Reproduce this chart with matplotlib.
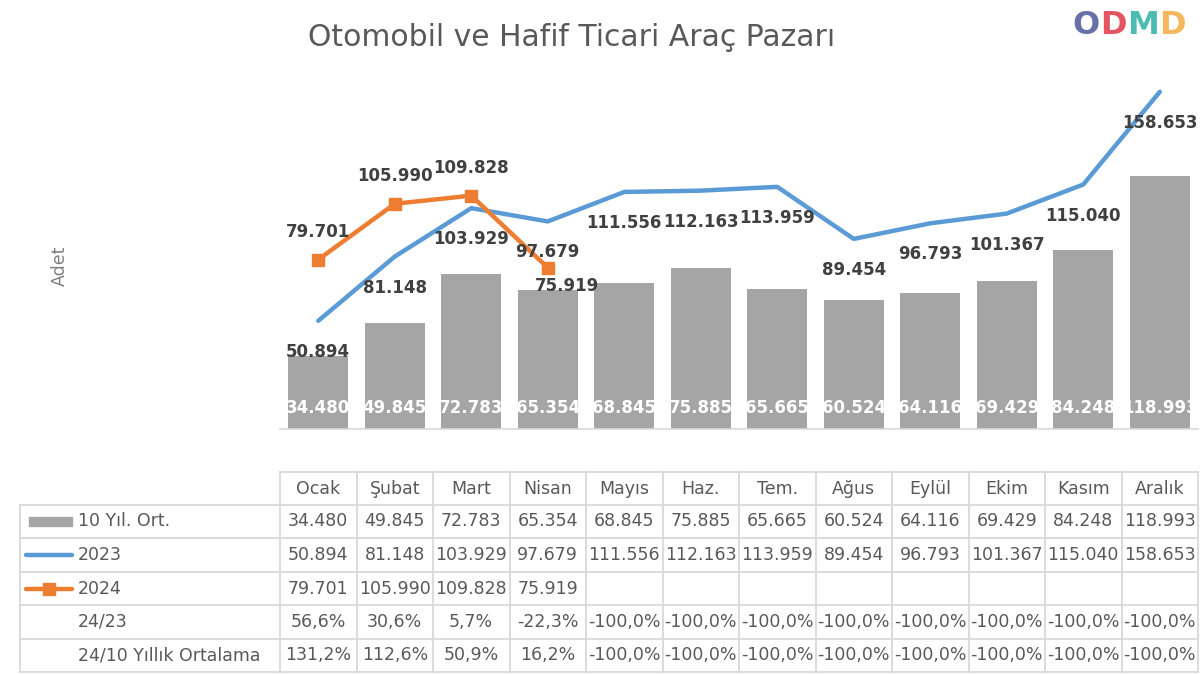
import matplotlib
matplotlib.use("Agg")
import matplotlib.pyplot as plt
from matplotlib.patches import Rectangle
from matplotlib.lines import Line2D

plt.rcParams['font.family'] = ['DejaVu Sans']

# ---------------- data ----------------
months = ["Ocak", "Şubat", "Mart", "Nisan", "Mayıs", "Haz.", "Tem.", "Ağus",
          "Eylül", "Ekim", "Kasım", "Aralık"]
avg10 = [34480, 49845, 72783, 65354, 68845, 75885, 65665, 60524, 64116, 69429, 84248, 118993]
y2023 = [50894, 81148, 103929, 97679, 111556, 112163, 113959, 89454, 96793, 101367, 115040, 158653]
y2024 = [79701, 105990, 109828, 75919]
pct_24_23 = [56.6, 30.6, 5.7, -22.3, -100.0, -100.0, -100.0, -100.0, -100.0, -100.0, -100.0, -100.0]
pct_24_10 = [131.2, 112.6, 50.9, 16.2, -100.0, -100.0, -100.0, -100.0, -100.0, -100.0, -100.0, -100.0]
row_labels = ["10 Yıl. Ort.", "2023", "2024", "24/23", "24/10 Yıllık Ortalama"]
title = "Otomobil ve Hafif Ticari Araç Pazarı"
logo_letters = ["O", "D", "M", "D"]

# ---------------- style ----------------
W, H = 1200, 675
GRAY_BAR = "#a5a5a5"
BLUE = "#5b9bd5"
ORANGE = "#ed7d31"
LABEL = "#404040"
TXT = "#595959"
GRID = "#d9d9d9"
logo_colors = ["#56629e", "#e0424f", "#3ab5a8", "#f4b04a"]

def fmt(v):
    return f"{v:,}".replace(",", ".")

def fmtp(p):
    return f"{p:.1f}%".replace(".", ",")

fig = plt.figure(figsize=(12, 6.75), dpi=100)
fig.patch.set_facecolor("white")

# chart geometry (pixels)
left_px, col_w, base_px = 280, 76.5, 429
ymax = 180000
plot_h = 382.5
ax = fig.add_axes([left_px / W, (H - base_px) / H, 12 * col_w / W, plot_h / H])
ax.set_xlim(-0.5, 11.5)
ax.set_ylim(0, ymax)
for s in ["top", "right", "left"]:
    ax.spines[s].set_visible(False)
ax.spines["bottom"].set_color(GRID)
ax.spines["bottom"].set_linewidth(1.2)
ax.set_xticks([])
ax.set_yticks([])
ax.patch.set_alpha(0)

x = list(range(len(months)))
ax.bar(x, avg10, width=0.78, color=GRAY_BAR, zorder=1)
ax.plot(x, y2023, color=BLUE, lw=3.2, solid_capstyle="round", zorder=3)
x24 = x[:len(y2024)]
ax.plot(x24, y2024, color=ORANGE, lw=3.2, marker="s", ms=8.5, zorder=4)

LFS = 12
pt = 72 / 100  # px -> points
for i, v in enumerate(avg10):
    ax.annotate(fmt(v), (i, 0), xytext=(0, 21 * pt), textcoords="offset points",
                ha="center", va="center", color="white", fontsize=LFS,
                fontweight="bold", zorder=2)
for i, v in enumerate(y2023):
    ax.annotate(fmt(v), (i, v), xytext=(0, -31 * pt), textcoords="offset points",
                ha="center", va="center", color=LABEL, fontsize=LFS,
                fontweight="bold", zorder=5)
for i, v in enumerate(y2024):
    if i == 3:
        off = (19 * pt, -18 * pt)
    else:
        off = (0, 28 * pt)
    ax.annotate(fmt(v), (i, v), xytext=off, textcoords="offset points",
                ha="center", va="center", color=LABEL, fontsize=LFS,
                fontweight="bold", zorder=5)

# ---------------- overlay (title, table, logo) ----------------
ov = fig.add_axes([0, 0, 1, 1], zorder=-1)
ov.set_xlim(0, W)
ov.set_ylim(H, 0)
ov.axis("off")

ov.text(572, 38, title, ha="center", va="center", fontsize=21.5, color=TXT)
ov.text(60, 266, "Adet", ha="center", va="center", rotation=90, fontsize=12.5, color="#7f7f7f")

# logo: letters placed side by side
renderer = fig.canvas.get_renderer()
lx = 1072
for ch, c in zip(logo_letters, logo_colors):
    t = ov.text(lx, 26, ch, ha="left", va="center", fontsize=23, fontweight="bold",
                color=c, alpha=0.9)
    bb = t.get_window_extent(renderer=renderer)
    lx += bb.width + 0.5

# table
row_top = [472, 505, 538, 572, 605, 639, 672]
lab_left = 20
tab_right = left_px + 12 * col_w
lw = 1.3
ov.plot([left_px, tab_right], [row_top[0], row_top[0]], color=GRID, lw=lw)
for r in range(1, 7):
    ov.plot([lab_left, tab_right], [row_top[r], row_top[r]], color=GRID, lw=lw)
ov.plot([lab_left, lab_left], [row_top[1], row_top[6]], color=GRID, lw=lw)
for c in range(13):
    xx = left_px + c * col_w
    ov.plot([xx, xx], [row_top[0], row_top[6]], color=GRID, lw=lw)

def ymid(r):
    return (row_top[r] + row_top[r + 1]) / 2

TFS = 12.5
for i, m in enumerate(months):
    cx = left_px + (i + 0.5) * col_w
    ov.text(cx, ymid(0), m, ha="center", va="center", fontsize=TFS, color=TXT)
    ov.text(cx, ymid(1), fmt(avg10[i]), ha="center", va="center", fontsize=TFS, color=TXT)
    ov.text(cx, ymid(2), fmt(y2023[i]), ha="center", va="center", fontsize=TFS, color=TXT)
    if i < len(y2024):
        ov.text(cx, ymid(3), fmt(y2024[i]), ha="center", va="center", fontsize=TFS, color=TXT)
    ov.text(cx, ymid(4), fmtp(pct_24_23[i]), ha="center", va="center", fontsize=TFS, color=TXT)
    ov.text(cx, ymid(5), fmtp(pct_24_10[i]), ha="center", va="center", fontsize=TFS, color=TXT)

for r, lab in enumerate(row_labels):
    ov.text(78, ymid(r + 1), lab, ha="left", va="center", fontsize=12.5, color=TXT)

# legend keys
ov.add_patch(Rectangle((29, ymid(1) - 4.5), 43, 9, color=GRAY_BAR))
ov.add_line(Line2D([26, 72], [ymid(2), ymid(2)], color=BLUE, lw=3.2, solid_capstyle="round"))
ov.add_line(Line2D([26, 72], [ymid(3), ymid(3)], color=ORANGE, lw=3.2, solid_capstyle="round"))
ov.add_line(Line2D([49], [ymid(3)], color=ORANGE, marker="s", ms=8.5))

fig.savefig("out.png", dpi=100, facecolor="white")
